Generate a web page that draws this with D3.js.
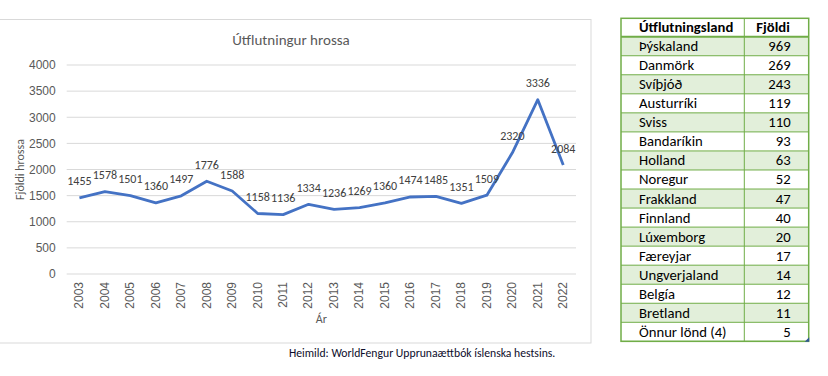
<!DOCTYPE html>
<html>
<head>
<meta charset="utf-8">
<script src="https://cdn.jsdelivr.net/npm/d3@7.9.0/dist/d3.min.js"></script>
<style>
  body { margin: 0; background: #fff; }
  svg { display: block; font-family: Carlito, Calibri, "Liberation Sans", sans-serif; }
</style>
</head>
<body>
<svg id="chart" width="828" height="376"></svg>
<script>
// chart data
const years = ['2003','2004','2005','2006','2007','2008','2009','2010','2011','2012',
  '2013','2014','2015','2016','2017','2018','2019','2020','2021','2022'];
const horses = [1455,1578,1501,1360,1497,1776,1588,1158,1136,1334,
  1236,1269,1360,1474,1485,1351,1509,2320,3336,2084];
const yTicks = [0,500,1000,1500,2000,2500,3000,3500,4000];

// table data
const countries = ['Þýskaland','Danmörk','Svíþjóð','Austurríki','Sviss','Bandaríkin','Holland',
  'Noregur','Frakkland','Finnland','Lúxemborg','Færeyjar','Ungverjaland','Belgía','Bretland','Önnur lönd (4)'];
const counts = [969,269,243,119,110,93,63,52,47,40,20,17,14,12,11,5];

const svg = d3.select('#chart');

// chart frame
svg.append('rect')
  .attr('x', -1).attr('y', 19.5).attr('width', 592).attr('height', 323.5)
  .attr('fill', '#fff').attr('stroke', '#d9d9d9');

const plot = { left: 66.7, right: 576, top: 65, bottom: 274 };

const x = d3.scaleBand().domain(years).range([plot.left, plot.right]);
const y = d3.scaleLinear().domain([0, 4000]).range([plot.bottom, plot.top]);

svg.append('text')
  .attr('x', 291).attr('y', 45)
  .attr('text-anchor', 'middle')
  .attr('font-size', 15).attr('fill', '#595959')
  .text('Útflutningur hrossa');

// gridlines
svg.append('g').selectAll('line').data(yTicks).join('line')
  .attr('x1', plot.left).attr('x2', plot.right)
  .attr('y1', d => y(d)).attr('y2', d => y(d))
  .attr('stroke', '#d9d9d9').attr('stroke-width', 1);

const yAxis = svg.append('g')
  .attr('transform', `translate(${plot.left},0)`)
  .call(d3.axisLeft(y).tickValues(yTicks).tickFormat(d3.format('d')).tickSize(0).tickPadding(11));
yAxis.select('.domain').remove();
yAxis.selectAll('text').attr('font-size', 12).attr('fill', '#595959').attr('font-family', null);

const xAxis = svg.append('g')
  .attr('transform', `translate(0,${plot.bottom})`)
  .call(d3.axisBottom(x).tickSize(0));
xAxis.select('.domain').remove();
xAxis.selectAll('text')
  .attr('font-size', 12).attr('fill', '#595959').attr('font-family', null)
  .attr('transform', 'rotate(-90)')
  .attr('text-anchor', 'end')
  .attr('dy', '0.32em')
  .attr('x', -8).attr('y', 0);

svg.append('text')
  .attr('transform', `translate(24,${(plot.top + plot.bottom) / 2}) rotate(-90)`)
  .attr('text-anchor', 'middle')
  .attr('font-size', 12).attr('fill', '#595959')
  .text('Fjöldi hrossa');

svg.append('text')
  .attr('x', (plot.left + plot.right) / 2).attr('y', 323)
  .attr('text-anchor', 'middle')
  .attr('font-size', 12).attr('fill', '#595959')
  .text('Ár');

// the line
const line = d3.line()
  .x((d, i) => x(years[i]) + x.bandwidth() / 2)
  .y(d => y(d));

svg.append('path')
  .datum(horses)
  .attr('d', line)
  .attr('fill', 'none')
  .attr('stroke', '#4472c4')
  .attr('stroke-width', 2.8)
  .attr('stroke-linejoin', 'round');

svg.append('g').selectAll('text').data(horses).join('text')
  .attr('x', (d, i) => x(years[i]) + x.bandwidth() / 2)
  .attr('y', d => y(d) - 12.5)
  .attr('text-anchor', 'middle')
  .attr('font-size', 12).attr('fill', '#404040')
  .text(d => d);

svg.append('text')
  .attr('x', 289).attr('y', 356.5)
  .attr('font-size', 11.7).attr('fill', '#0d0d2b')
  .text('Heimild: WorldFengur Upprunaættbók íslenska hestsins.');

// table
const tbl = { left: 621, mid: 744.3, right: 808.7, top: 18.3, headH: 18.4 };
const rowH = 19.04;
const rows = d3.range(countries.length);
const rowY = d3.scaleLinear().domain([0, countries.length]).range([tbl.top + tbl.headH, tbl.top + tbl.headH + rowH * countries.length]);
const green = '#70ad47';

const tg = svg.append('g');
tg.selectAll('rect.row').data(rows).join('rect')
  .attr('class', 'row')
  .attr('x', tbl.left).attr('width', tbl.right - tbl.left)
  .attr('y', i => rowY(i)).attr('height', rowH)
  .attr('fill', i => i % 2 === 0 ? '#e2efda' : '#fff');

tg.selectAll('line.h').data(d3.range(countries.length + 1)).join('line')
  .attr('class', 'h')
  .attr('x1', tbl.left).attr('x2', tbl.right)
  .attr('y1', i => rowY(i)).attr('y2', i => rowY(i))
  .attr('stroke', green).attr('stroke-width', i => i === 0 ? 2 : 1);

tg.append('line')
  .attr('x1', tbl.mid).attr('x2', tbl.mid)
  .attr('y1', tbl.top).attr('y2', rowY(countries.length))
  .attr('stroke', green);

tg.append('rect')
  .attr('x', tbl.left).attr('y', tbl.top)
  .attr('width', tbl.right - tbl.left).attr('height', rowY(countries.length) - tbl.top)
  .attr('fill', 'none').attr('stroke', green).attr('stroke-width', 1.5);

tg.append('text')
  .attr('x', 639).attr('y', tbl.top + 14)
  .attr('font-size', 14.7).attr('font-weight', 'bold').attr('fill', '#000')
  .text('Útflutningsland');
tg.append('text')
  .attr('x', 773).attr('y', tbl.top + 14)
  .attr('text-anchor', 'middle')
  .attr('font-size', 14.7).attr('font-weight', 'bold').attr('fill', '#000')
  .text('Fjöldi');

tg.selectAll('text.c').data(countries).join('text')
  .attr('class', 'c')
  .attr('x', 639).attr('y', (d, i) => rowY(i) + 14.5)
  .attr('font-size', 14.7).attr('fill', '#000')
  .text(d => d);

tg.selectAll('text.n').data(counts).join('text')
  .attr('class', 'n')
  .attr('x', 790.7).attr('y', (d, i) => rowY(i) + 14.5)
  .attr('text-anchor', 'end')
  .attr('font-size', 14.7).attr('fill', '#000')
  .text(d => d);

// excel resize handle
tg.append('path')
  .attr('d', `M${tbl.right + 0.5},${rowY(countries.length) - 4} L${tbl.right + 0.5},${rowY(countries.length) + 0.5} L${tbl.right - 4},${rowY(countries.length) + 0.5} Z`)
  .attr('fill', '#2f5597');
</script>
</body>
</html>
